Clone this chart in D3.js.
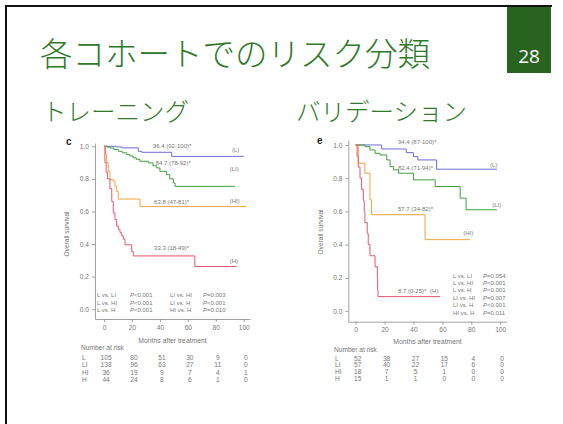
<!DOCTYPE html>
<html>
<head>
<meta charset="utf-8">
<script src="https://cdn.jsdelivr.net/npm/d3@7"></script>
<style>
  body { margin: 0; background: #fff; }
  svg { display: block; }
</style>
</head>
<body>
<script>
const groups = ['L', 'LI', 'HI', 'H'];
const xTicks = [0, 20, 40, 60, 80, 100];
const yTicks = [0, 0.2, 0.4, 0.6, 0.8, 1.0];
const comparisons = ['L vs. LI', 'L vs. HI', 'L vs. H', 'LI vs. HI', 'LI vs. H', 'HI vs. H'];

// training cohort (panel c): [month, survival]
const trainL = [[0, 1], [9, 0.996], [12.6, 0.99], [24.5, 0.969], [26.9, 0.963], [48.4, 0.938], [100, 0.938]];
const trainLI = [[0, 1], [2, 0.995], [4.2, 0.99], [7, 0.98], [10.2, 0.969], [13, 0.96], [16.2, 0.949], [18.5, 0.94],
  [20.9, 0.929], [23, 0.92], [25.7, 0.908], [31.7, 0.898], [35, 0.88], [37.7, 0.867], [40, 0.846], [44.8, 0.826],
  [47, 0.8], [49.6, 0.775], [50.8, 0.754], [93.8, 0.754]];
const trainHI = [[0, 1], [1, 0.95], [1.8, 0.9], [3, 0.846], [4.2, 0.795], [6.6, 0.785], [7.8, 0.754], [9, 0.723],
  [10.2, 0.676], [25.7, 0.631], [102, 0.631]];
const trainH = [[0, 1], [0.6, 0.9], [1.5, 0.84], [2.5, 0.8], [4.2, 0.74], [5.5, 0.66], [6.6, 0.59], [7.8, 0.55],
  [9, 0.51], [10.2, 0.49], [11.4, 0.47], [12.6, 0.45], [13.8, 0.43], [15, 0.395], [19.8, 0.354], [20.9, 0.327],
  [65, 0.262], [95, 0.262]];
const trainRisk = [[105, 80, 51, 30, 9, 0], [138, 96, 63, 27, 11, 0], [36, 19, 9, 7, 4, 1], [44, 24, 8, 6, 1, 0]];
const trainRates = ['96.4 (92-100)*', '84.7 (78-92)*', '63.8 (47-81)*', '33.3 (18-49)*'];
const trainP = ['<0.001', '<0.001', '<0.001', '=0.003', '<0.001', '=0.010'];

// validation cohort (panel e)
const valL = [[0, 1], [18, 0.976], [35, 0.954], [40, 0.93], [43, 0.91], [56, 0.854], [97.7, 0.854]];
const valLI = [[0, 1], [6.4, 0.99], [9.9, 0.97], [13.4, 0.95], [16.8, 0.94], [21.5, 0.91], [23.8, 0.87], [26.1, 0.85],
  [29.6, 0.83], [40, 0.79], [55, 0.75], [72.3, 0.68], [76.4, 0.61], [97.7, 0.61]];
const valHI = [[0, 1], [1.8, 0.89], [6.4, 0.83], [9.9, 0.67], [11, 0.58], [48, 0.43], [79, 0.43]];
const valH = [[0, 1], [1, 0.933], [1.8, 0.867], [3, 0.8], [4.1, 0.733], [5.3, 0.667], [5.9, 0.6], [6.4, 0.533],
  [8, 0.467], [8.7, 0.4], [9.9, 0.333], [13.4, 0.267], [15, 0.2], [15.2, 0.13], [15.4, 0.087], [58.4, 0.087]];
const valRisk = [[52, 38, 27, 15, 4, 0], [57, 40, 22, 17, 6, 0], [18, 7, 5, 1, 0, 0], [15, 1, 1, 0, 0, 0]];
const valRates = ['94.4 (87-100)*', '82.4 (71-94)*', '57.7 (34-82)*', '8.7 (0-25)*'];
const valP = ['=0.054', '<0.001', '<0.001', '=0.007', '<0.001', '=0.011'];

const colors = ['#6c6cd4', '#3f9e3f', '#f2a33a', '#e5566c'];
const green = '#2f7a2a';
const jpFont = '"Noto Sans CJK JP", "Noto Sans", sans-serif';
const chartFont = '"Liberation Sans", Arial, sans-serif';
const grey = '#777';

const svg = d3.select('body').append('svg')
  .attr('width', 563)
  .attr('height', 424);

svg.append('rect').attr('width', 563).attr('height', 424).attr('fill', '#fff');

// slide frame (left + top edge)
svg.append('path')
  .attr('d', 'M6,424V6H552')
  .attr('fill', 'none')
  .attr('stroke', '#111')
  .attr('stroke-width', 2);

svg.append('rect')
  .attr('x', 507).attr('y', 7).attr('width', 44).attr('height', 66)
  .attr('fill', '#286420');

svg.append('text')
  .attr('x', 529).attr('y', 63)
  .attr('text-anchor', 'middle')
  .attr('fill', '#fff')
  .style('font-family', '"Open Sans", "Noto Sans", sans-serif')
  .style('font-size', '19px')
  .text('28');

svg.append('text')
  .attr('x', 40).attr('y', 66)
  .attr('fill', green)
  .style('font-family', jpFont)
  .style('font-weight', 300)
  .style('font-size', '32.5px')
  .text('各コホートでのリスク分類');

[['トレーニング', 42], ['バリデーション', 296]].forEach(([t, xPos]) => {
  svg.append('text')
    .attr('x', xPos).attr('y', 121)
    .attr('fill', green)
    .style('font-family', jpFont)
    .style('font-weight', 300)
    .style('font-size', '24.5px')
    .text(t);
});

function drawPanel(p) {
  const x = d3.scaleLinear().domain(p.xDomain).range(p.xRange);
  const y = d3.scaleLinear().domain(p.yDomain).range(p.yRange);

  const g = svg.append('g')
    .style('font-family', chartFont)
    .attr('fill', grey);

  const styleAxis = sel => {
    sel.attr('font-family', null).attr('font-size', null);
    sel.selectAll('path, line').attr('stroke', '#8a8a8a').attr('stroke-width', 0.8);
    sel.selectAll('text').attr('fill', grey).style('font-size', '6.6px');
  };

  g.append('g')
    .attr('transform', `translate(${p.xRange[0]},0)`)
    .call(d3.axisLeft(y).tickValues(yTicks).tickFormat(d3.format('.1f')).tickSize(3).tickSizeOuter(0).tickPadding(3))
    .call(styleAxis);

  g.append('g')
    .attr('transform', `translate(0,${p.yRange[0]})`)
    .call(d3.axisBottom(x).tickValues(xTicks).tickSize(3).tickSizeOuter(0).tickPadding(3))
    .call(styleAxis);

  const line = d3.line()
    .x(d => x(d[0]))
    .y(d => y(d[1]))
    .curve(d3.curveStepAfter);

  p.curves.forEach((c, i) => {
    g.append('path')
      .datum(c)
      .attr('d', line)
      .attr('fill', 'none')
      .attr('stroke', colors[i])
      .attr('stroke-width', 1);
  });

  // survival rate labels and group tags
  p.rates.forEach((r, i) => {
    g.append('text')
      .attr('x', x(p.ratePos[i][0])).attr('y', y(p.ratePos[i][1]))
      .attr('dy', '0.35em')
      .style('font-size', '6px')
      .text(r);
    g.append('text')
      .attr('x', x(p.tagPos[i][0])).attr('y', y(p.tagPos[i][1]))
      .attr('dy', '0.35em')
      .style('font-size', '6px')
      .text(`(${groups[i]})`);
  });

  // pairwise log-rank P values
  comparisons.forEach((c, i) => {
    const col = Math.floor(i / p.pRows);
    const row = i % p.pRows;
    const yy = p.pY0 + row * p.pDy;
    g.append('text')
      .attr('x', p.pCols[col][0]).attr('y', yy)
      .attr('dy', '0.35em')
      .style('font-size', '6px')
      .text(c);
    const t = g.append('text')
      .attr('x', p.pCols[col][1]).attr('y', yy)
      .attr('dy', '0.35em')
      .style('font-size', '6px');
    t.append('tspan').style('font-style', 'italic').text('P');
    t.append('tspan').text(p.pValues[i]);
  });

  g.append('text')
    .attr('transform', `translate(${p.yLabelX},${p.yLabelY}) rotate(-90)`)
    .attr('text-anchor', 'middle')
    .attr('dy', '0.35em')
    .style('font-size', '6.6px')
    .text('Overall survival');

  g.append('text')
    .attr('x', d3.mean(p.xRange)).attr('y', p.xLabelY)
    .attr('text-anchor', 'middle')
    .attr('dy', '0.35em')
    .style('font-size', '6.8px')
    .text('Months after treatment');

  g.append('text')
    .attr('x', p.riskX).attr('y', p.riskTitleY)
    .attr('dy', '0.35em')
    .style('font-size', '6.6px')
    .text('Number at risk');

  groups.forEach((gr, i) => {
    const yy = p.riskY0 + i * p.riskDy;
    g.append('text')
      .attr('x', p.riskX + 1).attr('y', yy)
      .attr('dy', '0.35em')
      .style('font-size', '6.6px')
      .text(gr);
    p.risk[i].forEach((v, j) => {
      g.append('text')
        .attr('x', x(xTicks[j]) + 2).attr('y', yy)
        .attr('dy', '0.35em')
        .attr('text-anchor', 'middle')
        .style('font-size', '6.6px')
        .text(v);
    });
  });

  svg.append('text')
    .attr('x', p.tagX).attr('y', p.tagY)
    .attr('fill', '#222')
    .style('font-family', chartFont)
    .style('font-weight', 'bold')
    .style('font-size', '10px')
    .text(p.letter);
}

drawPanel({
  letter: 'c', tagX: 66, tagY: 145,
  xDomain: [-6.5, 104.5], xRange: [95, 250],
  yDomain: [-0.06, 1.02], yRange: [319, 143],
  curves: [trainL, trainLI, trainHI, trainH],
  rates: trainRates,
  ratePos: [[35, 1.0], [37, 0.9], [35.8, 0.66], [35.8, 0.375]],
  tagPos: [[91.6, 0.975], [90, 0.86], [90, 0.665], [90, 0.295]],
  pValues: trainP, pRows: 3, pY0: 295, pDy: 7.4, pCols: [[97, 130], [170, 203]],
  yLabelX: 67, yLabelY: 234, xLabelY: 341,
  risk: trainRisk, riskX: 81, riskTitleY: 348, riskY0: 357.5, riskDy: 7.5
});

drawPanel({
  letter: 'e', tagX: 317, tagY: 144,
  xDomain: [-5.1, 104.5], xRange: [348.3, 506.7],
  yDomain: [-0.064, 1.03], yRange: [321.7, 140],
  curves: [valL, valLI, valHI, valH],
  rates: valRates,
  ratePos: [[29.3, 1.02], [29.3, 0.86], [29.3, 0.614], [29.3, 0.123]],
  tagPos: [[93, 0.88], [94.5, 0.64], [74.4, 0.47], [51.5, 0.119]],
  pValues: valP, pRows: 6, pY0: 275.5, pDy: 7.4, pCols: [[453, 483]],
  yLabelX: 321, yLabelY: 232, xLabelY: 341.7,
  risk: valRisk, riskX: 334, riskTitleY: 349.3, riskY0: 358.3, riskDy: 6.7
});
</script>
</body>
</html>
